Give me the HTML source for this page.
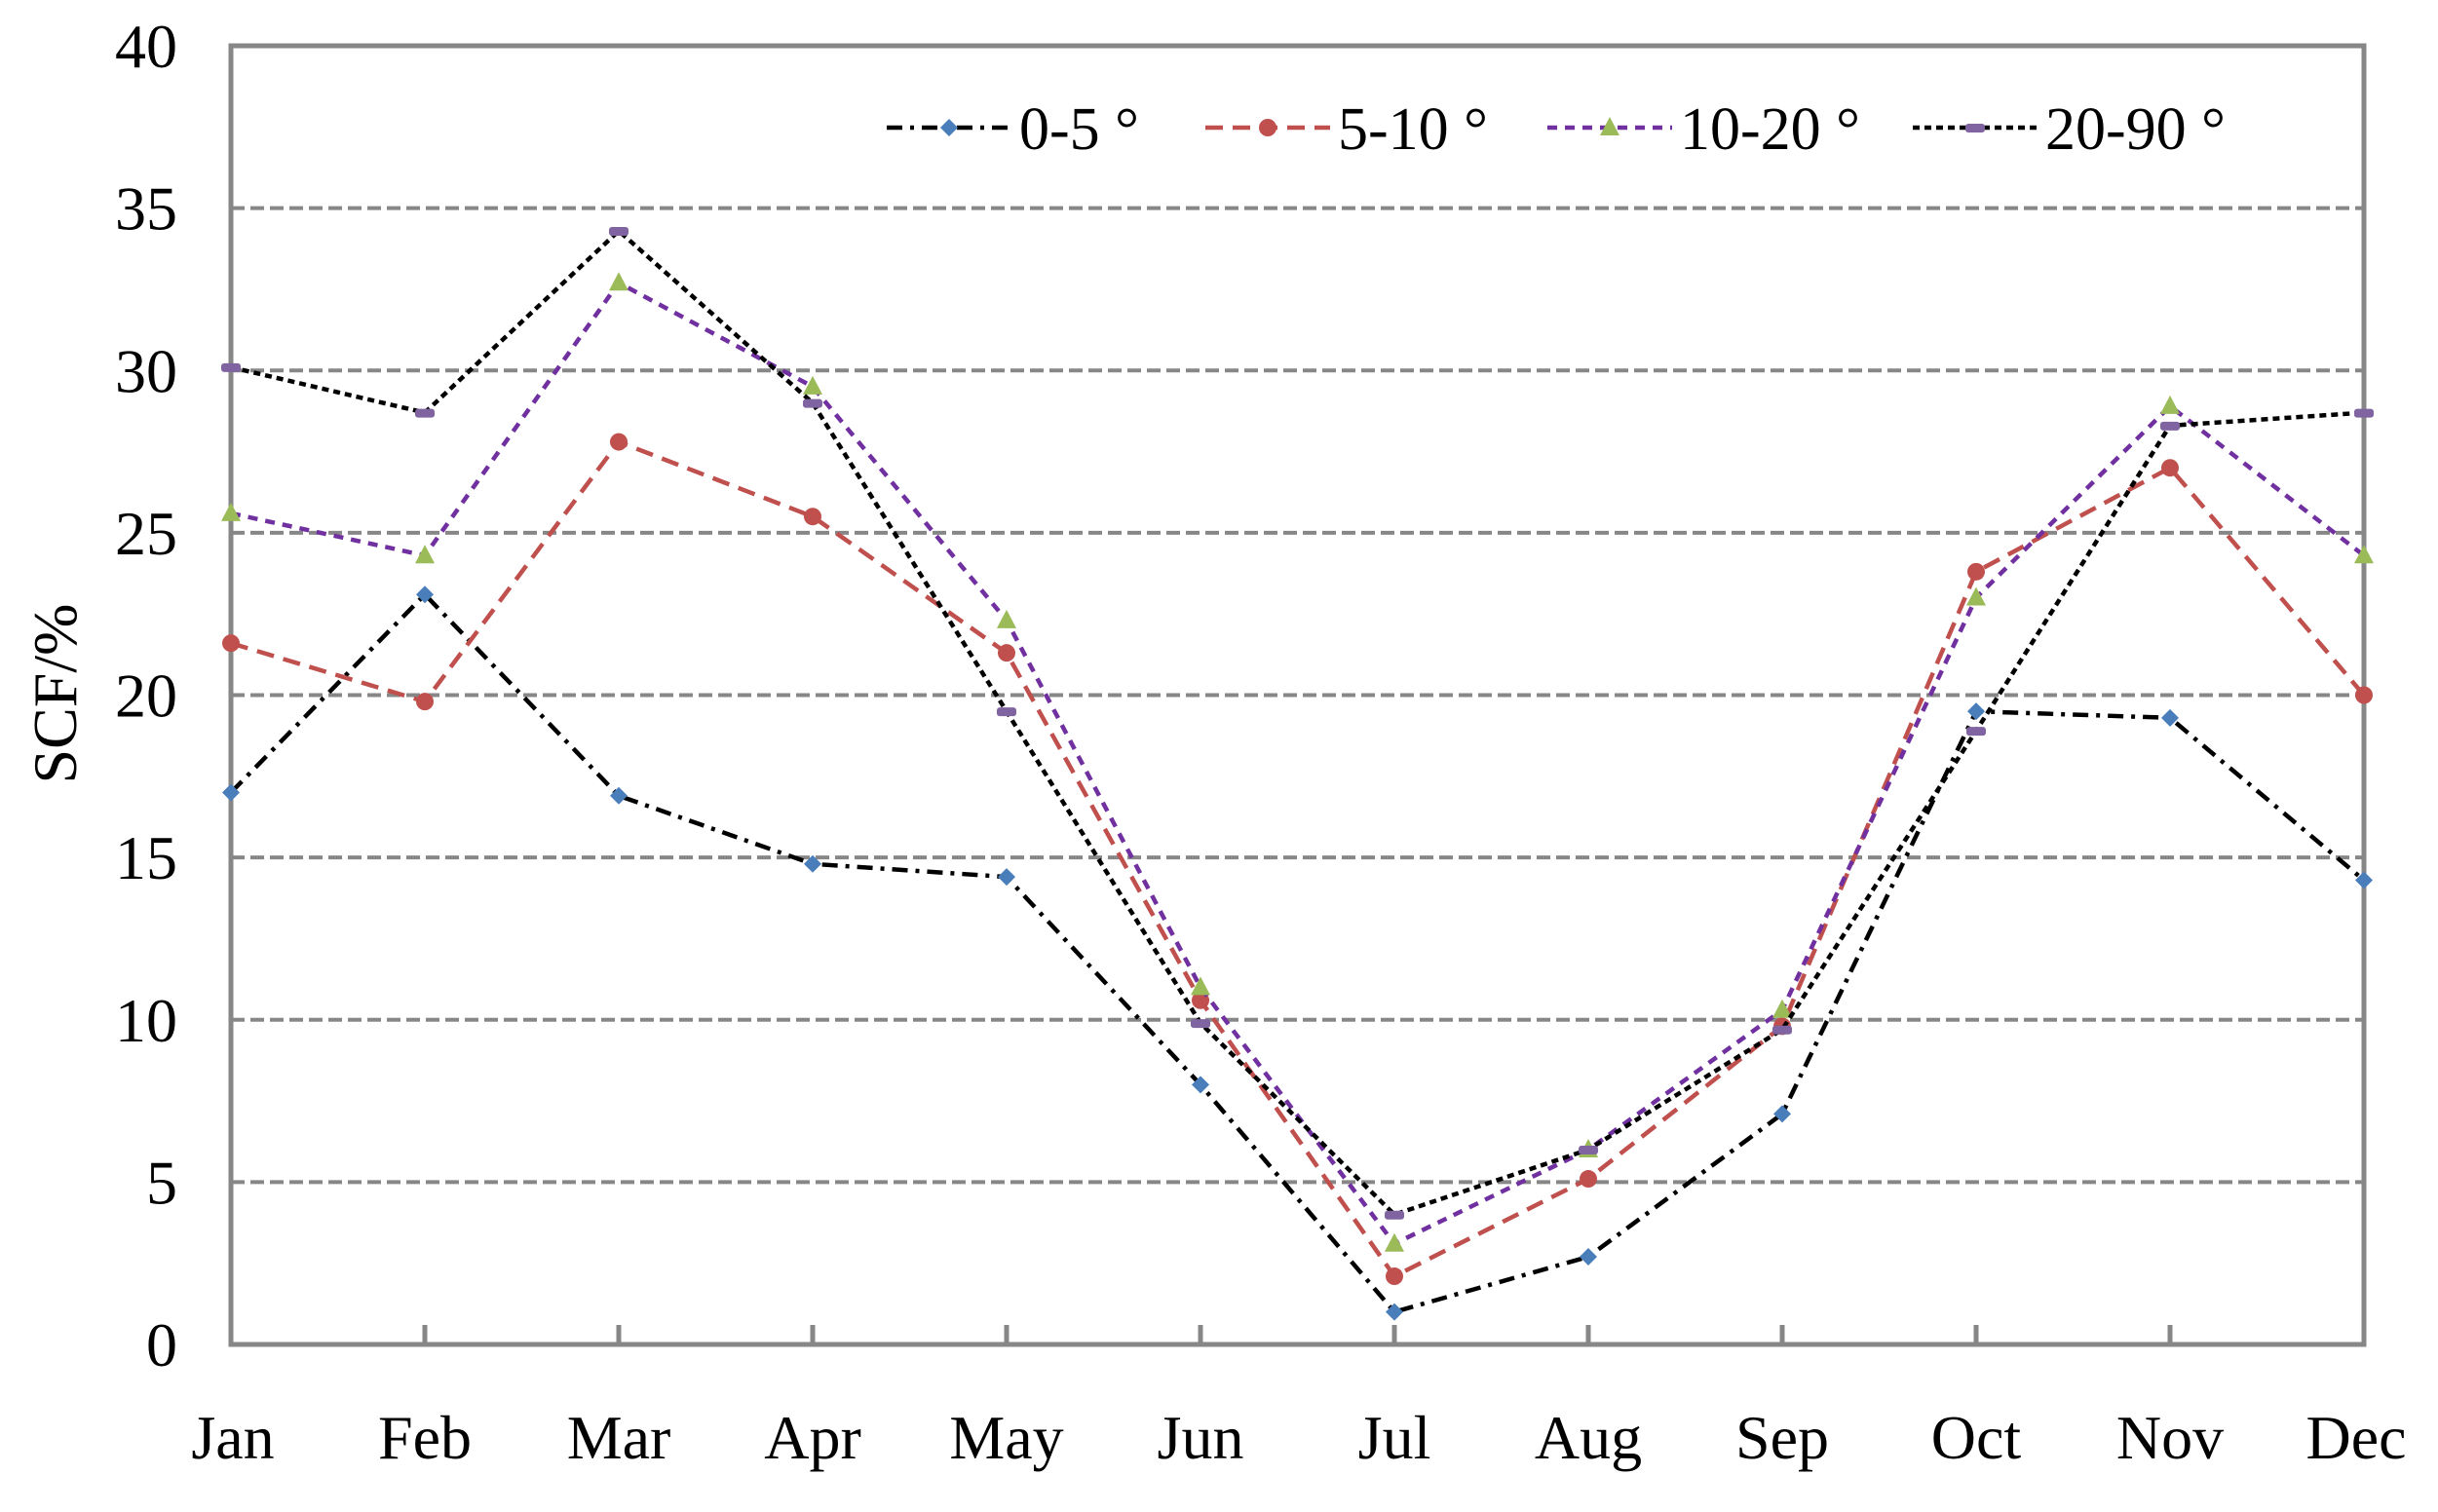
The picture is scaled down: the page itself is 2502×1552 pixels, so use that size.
<!DOCTYPE html>
<html><head><meta charset="utf-8"><style>
html,body{margin:0;padding:0;background:#fff;}
svg text{font-family:"Liberation Serif",serif;fill:#000;}
</style></head><body>
<svg id="chart" width="2502" height="1547" viewBox="0 0 2502 1547" xmlns="http://www.w3.org/2000/svg">
<g id="grid"></g>
<g id="axes"></g>
<g id="series"></g>
<g id="legend"></g>
<text x="0" y="0" font-size="64" text-anchor="middle" transform="translate(78,712) rotate(-90)">SCF/%</text>
</svg>
<script>
const months = ["Jan","Feb","Mar","Apr","May","Jun","Jul","Aug","Sep","Oct","Nov","Dec"];
const yTicks = [0,5,10,15,20,25,30,35,40];
const s0to5 = [17,23.1,16.9,14.8,14.4,8,1,2.7,7.1,19.5,19.3,14.3];
const s5to10 = [21.6,19.8,27.8,25.5,21.3,10.6,2.1,5.1,9.8,23.8,27,20];
const s10to20 = [25.6,24.3,32.7,29.5,22.3,11,3.1,6,10.3,23,28.9,24.3];
const s20to90 = [30.1,28.7,34.3,29,19.5,9.9,4,6,9.7,18.9,28.3,28.7];
const seriesNames = ["0-5 °","5-10 °","10-20 °","20-90 °"];

const NS="http://www.w3.org/2000/svg";
const L=237,R=2426,T=47,B=1380;
const xPos=i=>L+(R-L)*i/(months.length-1);
const yPos=v=>B-(B-T)*v/40;
function mk(tag,attrs,parent){const e=document.createElementNS(NS,tag);for(const k in attrs)e.setAttribute(k,attrs[k]);parent.appendChild(e);return e;}
const grid=document.getElementById('grid'),axes=document.getElementById('axes'),ser=document.getElementById('series'),leg=document.getElementById('legend');

yTicks.forEach(v=>{
  if(v>0&&v<40){const g=mk('line',{x1:L,x2:R,y1:yPos(v),y2:yPos(v),stroke:'#878787','stroke-width':4,'stroke-dasharray':'14 6'},grid);
  
  }
  const t=mk('text',{x:182,y:yPos(v)+22,'font-size':64,'text-anchor':'end'},axes);t.textContent=v;
  
  
});
const frame=mk('rect',{x:L,y:T,width:R-L,height:B-T,fill:'none',stroke:'#878787','stroke-width':5},axes);


months.forEach((m,i)=>{
  const tk=mk('line',{x1:xPos(i),x2:xPos(i),y1:B,y2:B-20,stroke:'#878787','stroke-width':5},axes);
  
  
  let x=xPos(i); if(i===months.length-1)x-=8; if(i===0)x+=2;
  const t=mk('text',{x:x,y:1497,'font-size':64,'text-anchor':'middle'},axes);t.textContent=m;
  
  
});

const styles=[
  {data:s0to5,line:'#000',dash:'16 8 4 8',marker:'diamond',mc:'#4a7ebb'},
  {data:s5to10,line:'#c0504d',dash:'18 10',marker:'circle',mc:'#c0504d'},
  {data:s10to20,line:'#7030a0',dash:'10 8',marker:'triangle',mc:'#9bbb59'},
  {data:s20to90,line:'#000',dash:'7 5',marker:'bar',mc:'#8064a2'}
];
function marker(type,x,y,c,parent){
  let e;
  if(type==='diamond')e=mk('polygon',{points:`${x},${y-9} ${x+9},${y} ${x},${y+9} ${x-9},${y}`,fill:c},parent);
  else if(type==='circle')e=mk('circle',{cx:x,cy:y,r:9,fill:c},parent);
  else if(type==='triangle')e=mk('polygon',{points:`${x},${y-11} ${x+10},${y+8} ${x-10},${y+8}`,fill:c},parent);
  else e=mk('rect',{x:x-10,y:y-4,width:20,height:9,rx:3,fill:c},parent);
  return e;
}
styles.forEach((s,si)=>{
  const g=mk('g',{},ser);
  
  
  const pts=s.data.map((v,i)=>xPos(i)+','+yPos(v)).join(' ');
  const pl=mk('polyline',{points:pts,fill:'none',stroke:s.line,'stroke-width':4.5,'stroke-dasharray':s.dash},g);
  
  
  s.data.forEach((v,i)=>{
    const m=marker(s.marker,xPos(i),yPos(v),s.mc,g);
    
    
  });
});
const legX=[910,1237,1588,1963];
styles.forEach((s,si)=>{
  const g=mk('g',{},leg);
  
  
  const x0=legX[si],x1=x0+128,y=131;
  mk('line',{x1:x0,x2:x1,y1:y,y2:y,stroke:s.line,'stroke-width':4.5,'stroke-dasharray':s.dash},g);
  marker(s.marker,(x0+x1)/2,y,s.mc,g);
  const t=mk('text',{x:x1+8,y:y+22,'font-size':62},g);t.textContent=seriesNames[si];
});
</script>
</body></html>
